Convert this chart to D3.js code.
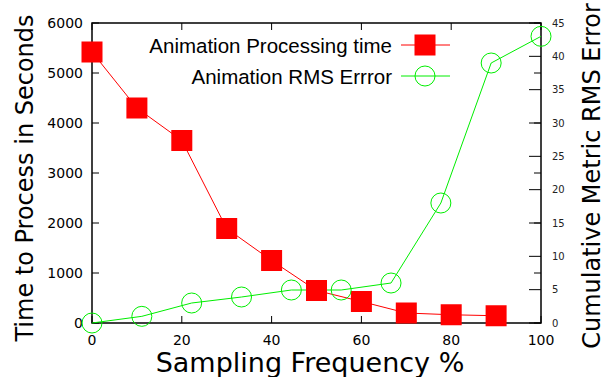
<!DOCTYPE html>
<html>
<head>
<meta charset="utf-8">
<script src="https://cdn.jsdelivr.net/npm/d3@7"></script>
<style>
  body { margin: 0; background: #fff; }
  svg { display: block; font-family: "DejaVu Sans", sans-serif; }
</style>
</head>
<body>
<div id="chart"></div>
<script>
// sampling frequency vs processing time / rms error

const timeX = [0, 10, 20, 30, 40, 50, 60, 70, 80, 90];
const timeY = [5420, 4300, 3650, 1890, 1250, 650, 430, 200, 165, 145];

const rmsX = [0, 11.1, 22.2, 33.3, 44.4, 55.5, 66.6, 77.7, 88.9, 100];
const rmsY = [0, 1.0, 3.0, 3.9, 4.95, 4.95, 6.0, 18.0, 39.0, 43.0];

const xTicks = [0, 20, 40, 60, 80, 100];
const yTicks = [0, 1000, 2000, 3000, 4000, 5000, 6000];
const y2Ticks = [0, 5, 10, 15, 20, 25, 30, 35, 40, 45];

const seriesNames = ["Animation Processing time", "Animation RMS Errror"];

const width = 609, height = 377;
const margin = { left: 92, right: 68, top: 23, bottom: 54 };

const svg = d3.select("#chart")
    .append("svg")
    .attr("width", width)
    .attr("height", height);

const x = d3.scaleLinear().domain([0, 100]).range([margin.left, width - margin.right]);
const y = d3.scaleLinear().domain([0, 6000]).range([height - margin.bottom, margin.top]);
const y2 = d3.scaleLinear().domain([0, 45]).range([height - margin.bottom, margin.top]);

const red = "#ff0000";
const green = "#00ee00";

// ticks (gnuplot style, inward, mirrored)
const tickLen = 7;
const g = svg.append("g").attr("stroke", "#000").attr("stroke-width", 1);

xTicks.forEach(t => {
    g.append("line")
        .attr("x1", x(t)).attr("x2", x(t))
        .attr("y1", y(0)).attr("y2", y(0) - tickLen);
    g.append("line")
        .attr("x1", x(t)).attr("x2", x(t))
        .attr("y1", y(6000)).attr("y2", y(6000) + tickLen);
});
yTicks.forEach(t => {
    g.append("line")
        .attr("x1", x(0)).attr("x2", x(0) + tickLen)
        .attr("y1", y(t)).attr("y2", y(t));
    g.append("line")
        .attr("x1", x(100)).attr("x2", x(100) - tickLen)
        .attr("y1", y(t)).attr("y2", y(t));
});
y2Ticks.forEach(t => {
    g.append("line")
        .attr("x1", x(100)).attr("x2", x(100) - 12)
        .attr("y1", y2(t)).attr("y2", y2(t));
});

// frame
svg.append("rect")
    .attr("x", x(0)).attr("y", y(6000))
    .attr("width", x(100) - x(0))
    .attr("height", y(0) - y(6000))
    .attr("fill", "none")
    .attr("stroke", "#000")
    .attr("stroke-width", 1.5);

// tick labels
svg.selectAll(".xlab")
    .data(xTicks)
    .enter()
    .append("text")
    .attr("x", d => x(d))
    .attr("y", y(0) + 22)
    .attr("text-anchor", "middle")
    .style("font-size", "14px")
    .text(d => d);

svg.selectAll(".ylab")
    .data(yTicks)
    .enter()
    .append("text")
    .attr("x", x(0) - 9)
    .attr("y", d => y(d) + 5)
    .attr("text-anchor", "end")
    .style("font-size", "14px")
    .text(d => d);

svg.selectAll(".y2lab")
    .data(y2Ticks)
    .enter()
    .append("text")
    .attr("x", x(100) + 11)
    .attr("y", d => y2(d) + 3.5)
    .attr("text-anchor", "start")
    .style("font-size", "10px")
    .style("fill", "#222")
    .text(d => d);

// axis titles
svg.append("text")
    .attr("transform", `translate(310, 372)`)
    .attr("text-anchor", "middle")
    .style("font-size", "27px")
    .text("Sampling Frequency %");

svg.append("text")
    .attr("transform", `translate(33, 178) rotate(-90)`)
    .attr("text-anchor", "middle")
    .style("font-size", "24px")
    .text("Time to Process in Seconds");

svg.append("text")
    .attr("transform", `translate(600, 176) rotate(-90)`)
    .attr("text-anchor", "middle")
    .style("font-size", "24px")
    .text("Cumulative Metric RMS Error");

// series lines
const lineTime = d3.line().x((d, i) => x(timeX[i])).y(d => y(d));
const lineRms = d3.line().x((d, i) => x(rmsX[i])).y(d => y2(d));

svg.append("path")
    .datum(timeY)
    .attr("d", lineTime)
    .attr("fill", "none")
    .attr("stroke", red)
    .attr("stroke-width", 1);

svg.append("path")
    .datum(rmsY)
    .attr("d", lineRms)
    .attr("fill", "none")
    .attr("stroke", green)
    .attr("stroke-width", 1);

const sq = 21;
svg.selectAll(".sq")
    .data(timeY)
    .enter()
    .append("rect")
    .attr("x", (d, i) => x(timeX[i]) - sq / 2)
    .attr("y", d => y(d) - sq / 2)
    .attr("width", sq)
    .attr("height", sq)
    .attr("fill", red);

svg.selectAll(".circ")
    .data(rmsY)
    .enter()
    .append("circle")
    .attr("cx", (d, i) => x(rmsX[i]))
    .attr("cy", d => y2(d))
    .attr("r", 10)
    .attr("fill", "none")
    .attr("stroke", green)
    .attr("stroke-width", 1);

// legend
const legX = 392, legY = [45, 76];
seriesNames.forEach((name, i) => {
    svg.append("text")
        .attr("x", legX)
        .attr("y", legY[i] + 7.5)
        .attr("text-anchor", "end")
        .style("font-family", "'Liberation Sans', Arial, sans-serif")
        .style("font-size", "20.5px")
        .text(name);
    svg.append("line")
        .attr("x1", 401).attr("x2", 450)
        .attr("y1", legY[i]).attr("y2", legY[i])
        .attr("stroke", i === 0 ? red : green)
        .attr("stroke-width", 1);
    if (i === 0) {
        svg.append("rect")
            .attr("x", 425 - sq / 2).attr("y", legY[i] - sq / 2)
            .attr("width", sq).attr("height", sq)
            .attr("fill", red);
    } else {
        svg.append("circle")
            .attr("cx", 425).attr("cy", legY[i]).attr("r", 10)
            .attr("fill", "none")
            .attr("stroke", green);
    }
});
</script>
</body>
</html>
